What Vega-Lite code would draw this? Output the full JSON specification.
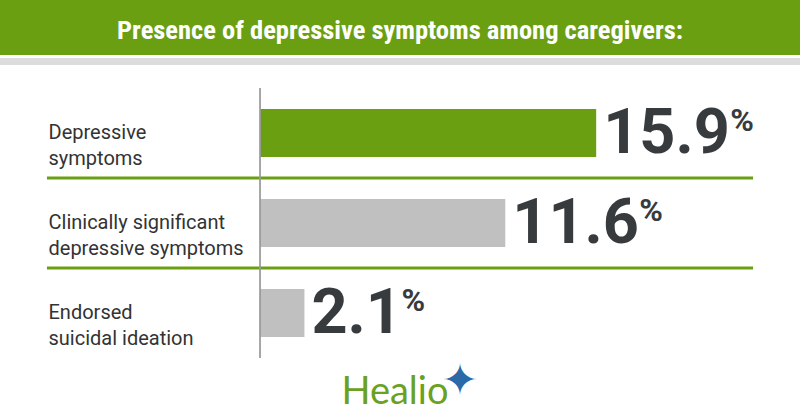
{
  "$schema": "https://vega.github.io/schema/vega-lite/v6.json",
  "padding": 0,
  "background": "white",
  "spacing": 20,
  "config": {"view": {"stroke": null}, "font": "Roboto"},
  "vconcat": [
    {
      "spacing": 0,
      "vconcat": [
        {
          "width": 800,
          "height": 55,
          "view": {"fill": "#6b9f12", "stroke": null},
          "data": {"values": [{"t": "Presence of depressive symptoms among caregivers:"}]},
          "mark": {"type": "text", "font": "Roboto Condensed, DejaVu Sans Condensed, Roboto", "fontWeight": "bold", "fontSize": 26.5, "color": "white", "baseline": "middle", "dy": 3},
          "encoding": {"text": {"field": "t"}}
        },
        {
          "width": 800,
          "height": 7,
          "view": {"fill": "#dcdcdc", "stroke": null},
          "data": {"values": [{"t": ""}]},
          "mark": {"type": "text"},
          "encoding": {"text": {"field": "t"}}
        }
      ]
    },
    {
      "spacing": 0,
      "vconcat": [
        {
          "width": 800,
          "height": 270,
          "data": {"values": [
            {"cat": "Depressive|symptoms", "value": 15.9},
            {"cat": "Clinically significant|depressive symptoms", "value": 11.6},
            {"cat": "Endorsed|suicidal ideation", "value": 2.1}
          ]},
          "encoding": {
            "y": {"field": "cat", "type": "nominal", "sort": null, "title": null,
              "scale": {"paddingInner": 0, "paddingOuter": 0},
              "axis": {"orient": "left", "domain": false, "ticks": false, "tickSize": 0, "grid": false,
                "labelAlign": "left", "labelPadding": -48, "labelBaseline": "middle", "labelLimit": 0,
                "labelExpr": "split(datum.label, '|')", "labelFontSize": 20, "labelColor": "#333333",
                "labelFont": "Roboto", "labelLineHeight": 26}}
          },
          "layer": [
            {
              "mark": {"type": "bar", "height": 48},
              "encoding": {
                "x": {"field": "value", "type": "quantitative", "axis": null,
                  "scale": {"domain": [-12.3, 25.54], "nice": false, "zero": false}},
                "color": {"field": "cat", "type": "nominal", "legend": null, "sort": null,
                  "scale": {"domain": ["Depressive|symptoms", "Clinically significant|depressive symptoms", "Endorsed|suicidal ideation"], "range": ["#6b9f12", "#c0c0c0", "#c0c0c0"]}}
              }
            },
            {
              "transform": [{"filter": "datum.value < 15"}],
              "mark": {"type": "rule", "color": "#6b9f12", "strokeWidth": 3},
              "encoding": {
                "y": {"field": "cat", "type": "nominal", "sort": null, "bandPosition": 0},
                "x": {"datum": -10.08},
                "x2": {"datum": 23.32}
              }
            },
            {
              "mark": {"type": "rule", "color": "#9a9a9a", "strokeWidth": 1},
              "encoding": {"x": {"datum": 0}, "y": null}
            },
            {
              "mark": {"type": "text", "align": "left", "baseline": "middle", "dx": 7, "dy": 1, "fontSize": 63, "fontWeight": "bold", "color": "#373b3e", "font": "Roboto"},
              "encoding": {
                "x": {"field": "value", "type": "quantitative"},
                "text": {"field": "value", "type": "quantitative", "format": ".1f"}
              }
            },
            {
              "transform": [{"filter": "datum.value >= 10"}],
              "mark": {"type": "text", "align": "left", "baseline": "middle", "dx": 134, "dy": -12, "fontSize": 32, "fontWeight": "bold", "color": "#373b3e", "font": "Roboto", "text": "%"},
              "encoding": {"x": {"field": "value", "type": "quantitative"}}
            },
            {
              "transform": [{"filter": "datum.value < 10"}],
              "mark": {"type": "text", "align": "left", "baseline": "middle", "dx": 97, "dy": -12, "fontSize": 32, "fontWeight": "bold", "color": "#373b3e", "font": "Roboto", "text": "%"},
              "encoding": {"x": {"field": "value", "type": "quantitative"}}
            }
          ]
        },
        {
          "width": 800,
          "height": 68,
          "data": {"values": [{"brand": "Healio", "star": "✦"}]},
          "layer": [
            {
              "mark": {"type": "text", "font": "Lato", "fontSize": 38, "color": "#6aa121", "align": "center", "baseline": "alphabetic", "dx": -5, "dy": 11},
              "encoding": {"text": {"field": "brand"}}
            },
            {
              "mark": {"type": "text", "font": "DejaVu Sans", "fontSize": 44, "color": "#2a6aa8", "align": "center", "baseline": "middle", "dx": 60, "dy": -11},
              "encoding": {"text": {"field": "star"}}
            }
          ]
        }
      ]
    }
  ]
}
